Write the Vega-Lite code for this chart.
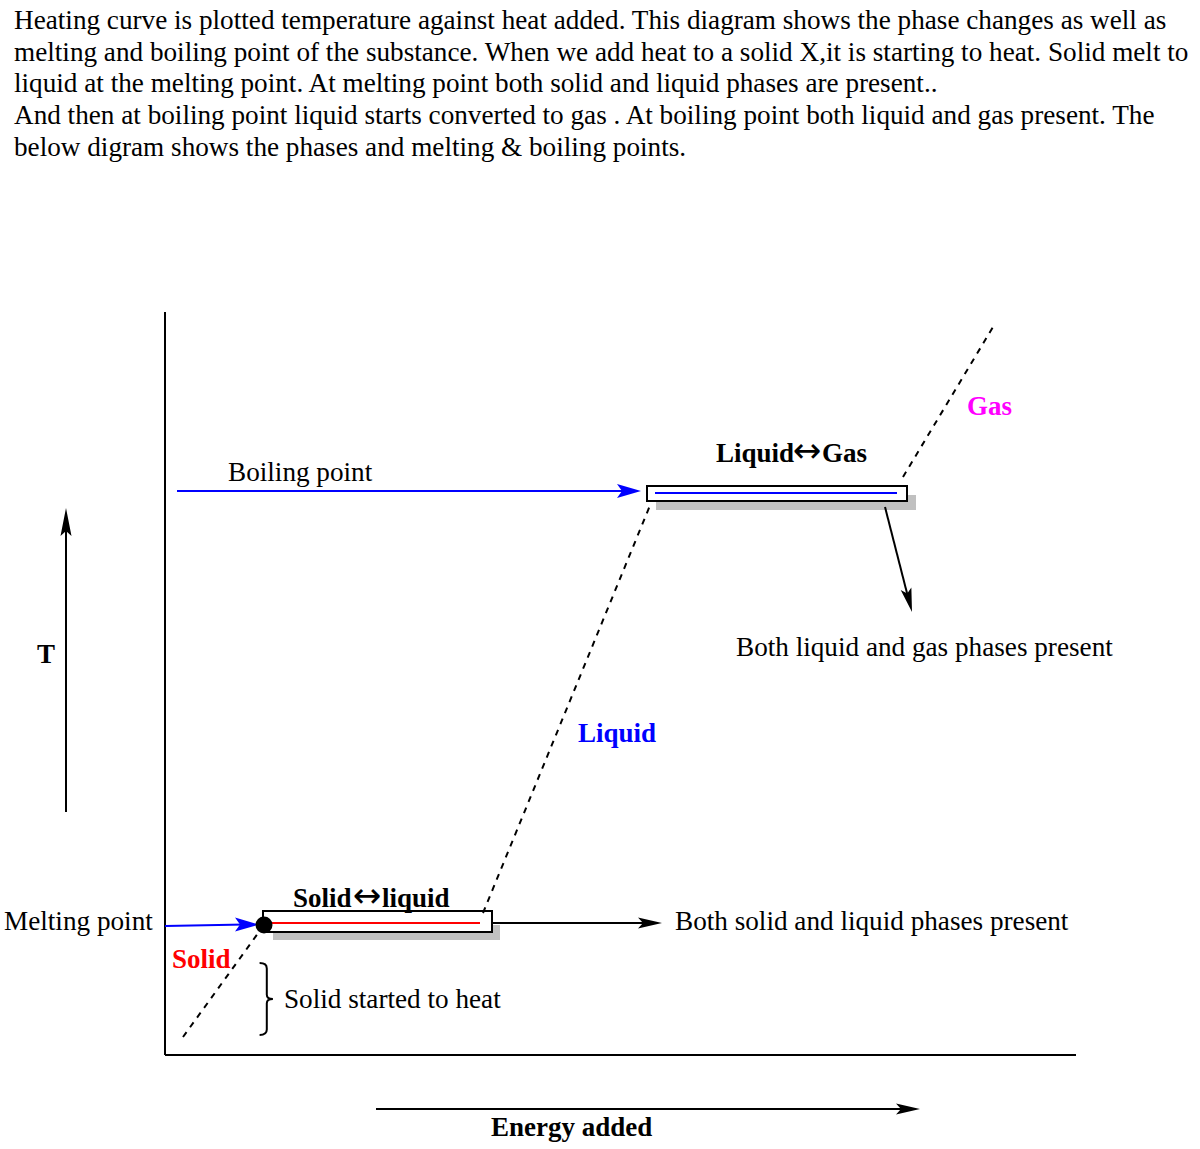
{
  "$schema": "https://vega.github.io/schema/vega-lite/v6.json",
  "width": 1200,
  "height": 1149,
  "autosize": {"type": "fit", "contains": "padding"},
  "padding": 0,
  "background": "white",
  "config": {"view": {"stroke": null}},
  "datasets": {
    "blackLines": [
      {"x": 165, "y": 312, "x2": 165, "y2": 1055},
      {"x": 165, "y": 1055, "x2": 1076, "y2": 1055},
      {"x": 66, "y": 812, "x2": 66, "y2": 522},
      {"x": 376, "y": 1109, "x2": 905, "y2": 1109},
      {"x": 492, "y": 923, "x2": 645, "y2": 923},
      {"x": 885, "y": 507, "x2": 908, "y2": 597}
    ],
    "blueLines": [
      {"x": 165, "y": 926, "x2": 245, "y2": 924.5},
      {"x": 177, "y": 491, "x2": 625, "y2": 491}
    ],
    "dashed": [
      {"x": 183, "y": 1037, "x2": 264, "y2": 925},
      {"x": 483, "y": 913, "x2": 651, "y2": 503},
      {"x": 903, "y": 477, "x2": 993, "y2": 327}
    ],
    "redInner": [{"x": 270, "y": 923, "x2": 480, "y2": 923}],
    "blueInner": [{"x": 655, "y": 493, "x2": 897, "y2": 493}],
    "shadows": [
      {"x": 273, "y": 925, "x2": 500, "y2": 940},
      {"x": 656, "y": 495, "x2": 916, "y2": 510}
    ],
    "boxes": [
      {"x": 263, "y": 911, "x2": 492, "y2": 932},
      {"x": 647, "y": 486, "x2": 907, "y2": 501}
    ],
    "dot": [{"x": 264, "y": 925}],
    "brace": [{"x": 265, "y": 999}],
    "blueHeads": [{"x": 259, "y": 924.5}, {"x": 641, "y": 491}],
    "blackRightHeads": [{"x": 662, "y": 923}, {"x": 920, "y": 1109}],
    "blackUpHeads": [{"x": 66, "y": 508}],
    "blackDownHeads": [{"x": 912, "y": 612}],
    "title": [
      {"text": "Heating curve is plotted temperature against heat added. This diagram shows the phase changes as well as", "x": 14, "y": 29},
      {"text": "melting and boiling point of the substance. When we add heat to a solid X,it is starting to heat. Solid melt to", "x": 14, "y": 60.5},
      {"text": "liquid at the melting point. At melting point both solid and liquid phases are present..", "x": 14, "y": 92},
      {"text": "And then at boiling point liquid starts converted to gas . At boiling point both liquid and gas present. The", "x": 14, "y": 123.5},
      {"text": "below digram shows the phases and melting & boiling points.", "x": 14, "y": 155.5}
    ],
    "regularLabels": [
      {"text": "Boiling point", "x": 228, "y": 481},
      {"text": "Both liquid and gas phases present", "x": 736, "y": 655.5},
      {"text": "Melting point", "x": 4, "y": 930},
      {"text": "Both solid and liquid phases present", "x": 675, "y": 930},
      {"text": "Solid started to heat", "x": 284, "y": 1008}
    ],
    "boldLabels": [
      {"text": "Liquid", "x": 716, "y": 462},
      {"text": "Gas", "x": 822, "y": 462},
      {"text": "Solid", "x": 293, "y": 907},
      {"text": "liquid", "x": 382, "y": 907},
      {"text": "Energy added", "x": 491, "y": 1136},
      {"text": "T", "x": 37, "y": 663}
    ],
    "arrowGlyphs": [
      {"text": "↔", "x": 807, "y": 462},
      {"text": "↔", "x": 367, "y": 907}
    ],
    "redLabels": [{"text": "Solid", "x": 172, "y": 968}],
    "blueLabels": [{"text": "Liquid", "x": 578, "y": 742}],
    "magentaLabels": [{"text": "Gas", "x": 967, "y": 415}]
  },
  "encoding": {
    "x": {"field": "x", "type": "quantitative", "scale": {"domain": [0, 1200], "nice": false, "zero": false}, "axis": null},
    "y": {"field": "y", "type": "quantitative", "scale": {"domain": [0, 1149], "nice": false, "zero": false, "reverse": true}, "axis": null}
  },
  "layer": [
    {"data": {"name": "shadows"}, "mark": {"type": "rect", "fill": "#c0c0c0"}, "encoding": {"x2": {"field": "x2"}, "y2": {"field": "y2"}}},
    {"data": {"name": "boxes"}, "mark": {"type": "rect", "fill": "white", "stroke": "black", "strokeWidth": 2}, "encoding": {"x2": {"field": "x2"}, "y2": {"field": "y2"}}},
    {"data": {"name": "redInner"}, "mark": {"type": "rule", "color": "#ff0000", "strokeWidth": 2}, "encoding": {"x2": {"field": "x2"}, "y2": {"field": "y2"}}},
    {"data": {"name": "blueInner"}, "mark": {"type": "rule", "color": "#0000ff", "strokeWidth": 2}, "encoding": {"x2": {"field": "x2"}, "y2": {"field": "y2"}}},
    {"data": {"name": "dashed"}, "mark": {"type": "rule", "color": "black", "strokeWidth": 2, "strokeDash": [6, 6]}, "encoding": {"x2": {"field": "x2"}, "y2": {"field": "y2"}}},
    {"data": {"name": "blackLines"}, "mark": {"type": "rule", "color": "black", "strokeWidth": 2}, "encoding": {"x2": {"field": "x2"}, "y2": {"field": "y2"}}},
    {"data": {"name": "blueLines"}, "mark": {"type": "rule", "color": "#0000ff", "strokeWidth": 2}, "encoding": {"x2": {"field": "x2"}, "y2": {"field": "y2"}}},
    {"data": {"name": "blueHeads"}, "mark": {"type": "point", "shape": "M0,0 L0.7,2.4 L0,1.9 L-0.7,2.4 Z", "size": 400, "angle": 90, "filled": true, "color": "#0000ff", "opacity": 1}},
    {"data": {"name": "blackRightHeads"}, "mark": {"type": "point", "shape": "M0,0 L0.55,2.4 L0,1.9 L-0.55,2.4 Z", "size": 400, "angle": 90, "filled": true, "color": "black", "opacity": 1}},
    {"data": {"name": "blackUpHeads"}, "mark": {"type": "point", "shape": "M0,0 L0.55,2.8 L0,2.3 L-0.55,2.8 Z", "size": 400, "angle": 0, "filled": true, "color": "black", "opacity": 1}},
    {"data": {"name": "blackDownHeads"}, "mark": {"type": "point", "shape": "M0,0 L0.55,2.4 L0,1.9 L-0.55,2.4 Z", "size": 400, "angle": 165.6, "filled": true, "color": "black", "opacity": 1}},
    {"data": {"name": "dot"}, "mark": {"type": "point", "shape": "circle", "size": 289, "filled": true, "color": "black", "opacity": 1}},
    {"data": {"name": "brace"}, "mark": {"type": "point", "shape": "M-0.15,-1 Q0.05,-1 0.05,-0.85 L0.05,-0.12 Q0.05,0 0.22,0 Q0.05,0 0.05,0.12 L0.05,0.85 Q0.05,1 -0.15,1", "size": 5184, "filled": false, "stroke": "black", "strokeWidth": 2, "opacity": 1}},
    {"data": {"name": "title"}, "mark": {"type": "text", "font": "Liberation Serif", "fontSize": 27.2, "align": "left", "baseline": "alphabetic", "color": "black"}, "encoding": {"text": {"field": "text"}}},
    {"data": {"name": "regularLabels"}, "mark": {"type": "text", "font": "Liberation Serif", "fontSize": 27.2, "align": "left", "baseline": "alphabetic", "color": "black"}, "encoding": {"text": {"field": "text"}}},
    {"data": {"name": "boldLabels"}, "mark": {"type": "text", "font": "Liberation Serif", "fontSize": 27, "fontWeight": "bold", "align": "left", "baseline": "alphabetic", "color": "black"}, "encoding": {"text": {"field": "text"}}},
    {"data": {"name": "arrowGlyphs"}, "mark": {"type": "text", "font": "DejaVu Sans", "fontSize": 34, "align": "center", "baseline": "alphabetic", "color": "black"}, "encoding": {"text": {"field": "text"}}},
    {"data": {"name": "redLabels"}, "mark": {"type": "text", "font": "Liberation Serif", "fontSize": 27, "fontWeight": "bold", "align": "left", "baseline": "alphabetic", "color": "#ff0000"}, "encoding": {"text": {"field": "text"}}},
    {"data": {"name": "blueLabels"}, "mark": {"type": "text", "font": "Liberation Serif", "fontSize": 27, "fontWeight": "bold", "align": "left", "baseline": "alphabetic", "color": "#0000ff"}, "encoding": {"text": {"field": "text"}}},
    {"data": {"name": "magentaLabels"}, "mark": {"type": "text", "font": "Liberation Serif", "fontSize": 27, "fontWeight": "bold", "align": "left", "baseline": "alphabetic", "color": "#ff00ff"}, "encoding": {"text": {"field": "text"}}}
  ]
}
